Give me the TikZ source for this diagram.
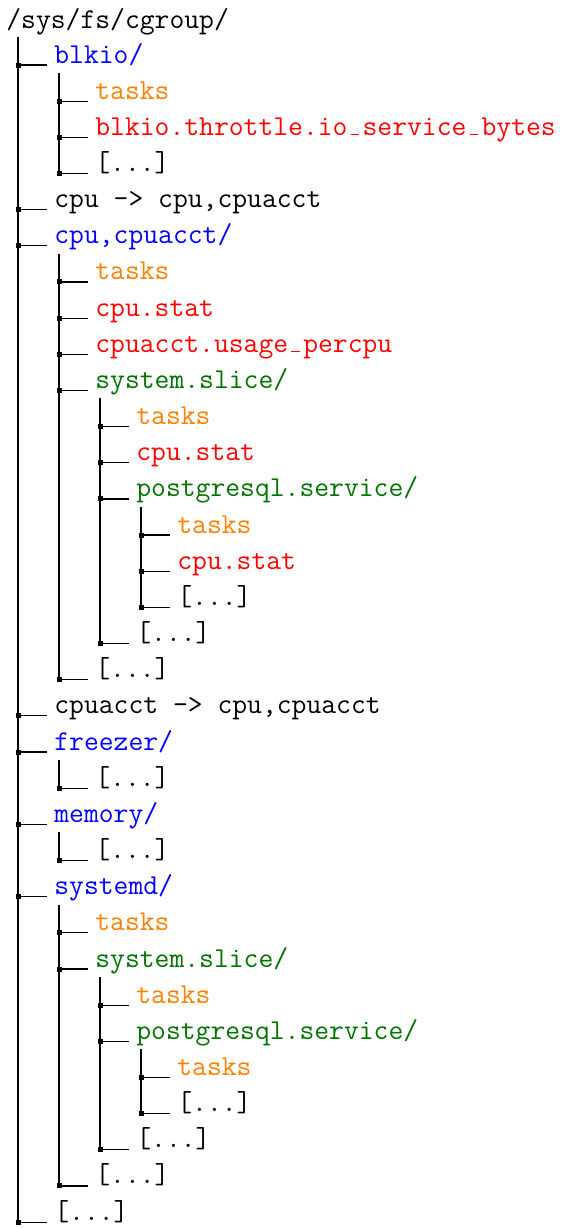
\documentclass[tikz,border=0pt]{standalone}
\usepackage{xcolor}
\definecolor{dgreen}{RGB}{0,115,0}
\definecolor{dorange}{RGB}{255,128,0}
\newcommand\us{\makebox[0.525em][c]{\rule{0.3em}{0.045em}}}
\tikzset{
  lbl/.style={anchor=base west,inner sep=0pt,font=\fontsize{14.4}{17}\selectfont\ttfamily},
  conn/.style={draw=black,line width=0.6pt},
}
\newcommand\tn[5]{%
  \pgfmathsetmacro\yy{65+(#3-1)*36.16}%
  \pgfmathsetmacro\xv{18+41*(#2-1)}%
  \coordinate (#1-j) at (\xv,\yy);
  \node[lbl,text=#4] (#1) at (\xv+36,\yy-2) {#5};
  \draw[conn] (#1-j) -- ++(29,0);
  \fill (#1-j) ++(-2.5,-2.5) rectangle ++(5,5);
}
\begin{document}
\begin{tikzpicture}[x=0.5pt,y=-0.5pt]
\useasboundingbox (0,0) rectangle (563,1228);
\node[lbl] (root) at (6,28) {/sys/fs/cgroup/};
\tn{blkio}{1}{1}{blue}{blkio/}
\tn{bt}{2}{2}{dorange}{tasks}
\tn{bthr}{2}{3}{red}{blkio.throttle.io\us service\us bytes}
\tn{bd}{2}{4}{black}{[...]}
\tn{cpul}{1}{5}{black}{cpu -> cpu,cpuacct}
\tn{cc}{1}{6}{blue}{cpu,cpuacct/}
\tn{cct}{2}{7}{dorange}{tasks}
\tn{ccs}{2}{8}{red}{cpu.stat}
\tn{ccu}{2}{9}{red}{cpuacct.usage\us percpu}
\tn{ss1}{2}{10}{dgreen}{system.slice/}
\tn{ss1t}{3}{11}{dorange}{tasks}
\tn{ss1s}{3}{12}{red}{cpu.stat}
\tn{pg1}{3}{13}{dgreen}{postgresql.service/}
\tn{pg1t}{4}{14}{dorange}{tasks}
\tn{pg1s}{4}{15}{red}{cpu.stat}
\tn{pg1d}{4}{16}{black}{[...]}
\tn{ss1d}{3}{17}{black}{[...]}
\tn{ccd}{2}{18}{black}{[...]}
\tn{cpual}{1}{19}{black}{cpuacct -> cpu,cpuacct}
\tn{fr}{1}{20}{blue}{freezer/}
\tn{frd}{2}{21}{black}{[...]}
\tn{mem}{1}{22}{blue}{memory/}
\tn{memd}{2}{23}{black}{[...]}
\tn{sd}{1}{24}{blue}{systemd/}
\tn{sdt}{2}{25}{dorange}{tasks}
\tn{ss2}{2}{26}{dgreen}{system.slice/}
\tn{ss2t}{3}{27}{dorange}{tasks}
\tn{pg2}{3}{28}{dgreen}{postgresql.service/}
\tn{pg2t}{4}{29}{dorange}{tasks}
\tn{pg2d}{4}{30}{black}{[...]}
\tn{ss2d}{3}{31}{black}{[...]}
\tn{sdd}{2}{32}{black}{[...]}
\tn{rd}{1}{33}{black}{[...]}
% vertical connectors
\draw[conn] (root.base west) ++(12,9) -- (rd-j);
\draw[conn] (blkio.base west) ++(5,10) -- (bd-j);
\draw[conn] (cc.base west) ++(5,10) -- (ccd-j);
\draw[conn] (ss1.base west) ++(5,10) -- (ss1d-j);
\draw[conn] (pg1.base west) ++(5,10) -- (pg1d-j);
\draw[conn] (fr.base west) ++(5,10) -- (frd-j);
\draw[conn] (mem.base west) ++(5,10) -- (memd-j);
\draw[conn] (sd.base west) ++(5,10) -- (sdd-j);
\draw[conn] (ss2.base west) ++(5,10) -- (ss2d-j);
\draw[conn] (pg2.base west) ++(5,10) -- (pg2d-j);
\end{tikzpicture}
\end{document}
